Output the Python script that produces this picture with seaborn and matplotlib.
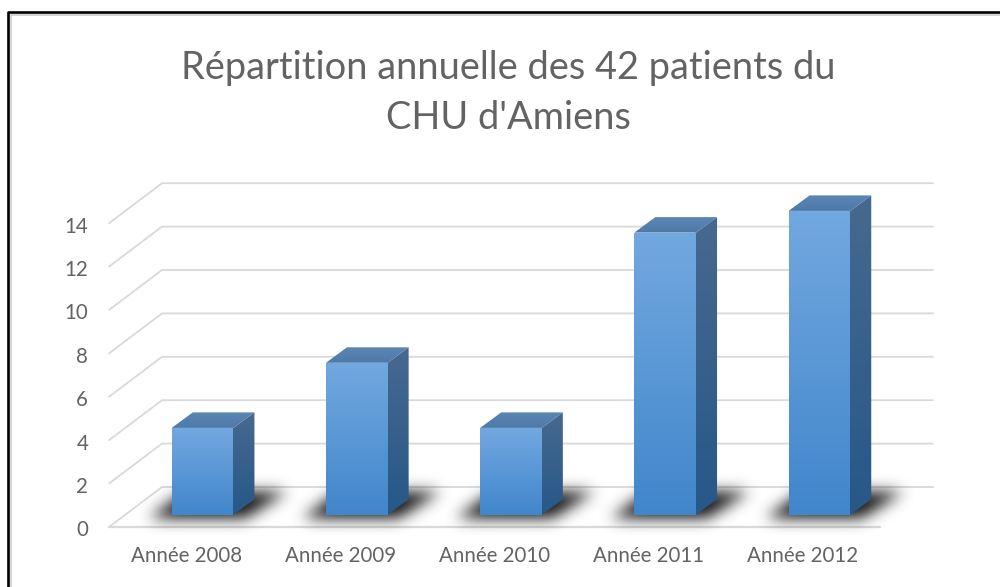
import numpy as np
import seaborn as sns
import matplotlib.pyplot as plt
from matplotlib.patches import Polygon
from matplotlib.path import Path
from matplotlib.transforms import ScaledTranslation

years = ['Année 2008', 'Année 2009', 'Année 2010', 'Année 2011', 'Année 2012']
patients = [4, 7, 4, 13, 14]
y_ticks = [0, 2, 4, 6, 8, 10, 12, 14]
title = "Répartition annuelle des 42 patients du\nCHU d'Amiens"

W, H = 1000, 587
X_LEFT, X_RIGHT = 109, 880   # floor front edge, pixels
Y_ZERO = 527                 # value 0 on the front plane, pixels
PX_CAT = (X_RIGHT - X_LEFT) / 5
PX_UNIT = 21.7
YMAX = 16

sns.set_theme(style='white')
plt.rcParams['font.family'] = ['Lato', 'DejaVu Sans']
grey = '#636363'
line = '#d9d9d9'

fig = plt.figure(figsize=(10, 5.87), dpi=100)
ax = fig.add_axes([X_LEFT / W, 1 - Y_ZERO / H, (X_RIGHT - X_LEFT) / W, PX_UNIT * YMAX / H])
sns.barplot(x=years, y=patients, width=0.4, color='#4a90d6', saturation=1, ax=ax, zorder=3, linewidth=0)
sns.despine(ax=ax, left=True, bottom=True, top=True, right=True)
ax.set_xlim(-0.5, 4.5)
ax.set_ylim(0, YMAX)
ax.set_autoscale_on(False)
ax.patch.set_alpha(0)


def dx(px):
    return px / PX_CAT


def dy(px):
    return px / PX_UNIT


# back wall and side wall lines
for t in y_ticks:
    ax.plot([-0.5, -0.5 + dx(53), 4.5 + dx(53)], [t, t + dy(40), t + dy(40)],
            color=line, lw=1.3, clip_on=False, zorder=1, solid_joinstyle='miter')
ax.plot([-0.5, 4.5], [0, 0], color=line, lw=1.6, clip_on=False, zorder=1)


def gradient_face(pts, c_top, c_bottom, z):
    pts = np.array(pts)
    top = np.array(plt.matplotlib.colors.to_rgb(c_top))
    bottom = np.array(plt.matplotlib.colors.to_rgb(c_bottom))
    t = np.linspace(0, 1, 256)[:, None, None]
    img = top[None, None, :] * (1 - t) + bottom[None, None, :] * t
    im = ax.imshow(img, extent=[pts[:, 0].min(), pts[:, 0].max(), pts[:, 1].min(), pts[:, 1].max()],
                   aspect='auto', origin='upper', zorder=z, interpolation='bilinear')
    clip = Polygon(pts, transform=ax.transData, fc='none', ec='none')
    ax.add_patch(clip)
    im.set_clip_path(clip)


def blur(a, sigma):
    r = int(sigma * 3)
    k = np.exp(-0.5 * (np.arange(-r, r + 1) / sigma) ** 2)
    k /= k.sum()
    a = np.apply_along_axis(lambda v: np.convolve(v, k, mode='same'), 0, a)
    return np.apply_along_axis(lambda v: np.convolve(v, k, mode='same'), 1, a)


BAR_DX, BAR_DY = 16.5, 12.3   # bar offset from the front plane, pixels
DEPTH_X, DEPTH_Y = 21, 15.5

for p in ax.patches[:len(patients)]:
    p.set_x(p.get_x() + dx(BAR_DX))
    p.set_y(dy(BAR_DY))
    x0, x1 = p.get_x(), p.get_x() + p.get_width()
    y0, y1 = p.get_y(), p.get_y() + p.get_height()
    ddx, ddy = dx(DEPTH_X), dy(DEPTH_Y)

    gradient_face([(x0, y0), (x1, y0), (x1, y1), (x0, y1)], '#72a8e0', '#4186cb', 5)
    gradient_face([(x1 - dx(1.5), y0), (x1, y0), (x1 + ddx, y0 + ddy), (x1 + ddx, y1 + ddy), (x1, y1), (x1 - dx(1.5), y1)],
                  '#47698f', '#265888', 4)
    gradient_face([(x0, y1), (x1, y1), (x1 + ddx, y1 + ddy), (x0 + ddx, y1 + ddy)], '#5a86b6', '#4e79a7', 4)

    # blurred floor shadow, grid of one cell per pixel
    gx = x0 + dx(np.arange(-70, 170))
    gy = dy(np.arange(-8, 60))
    xx, yy = np.meshgrid(gx, gy)
    shadow = Path([(x0 - dx(24), dy(8)), (x1 + dx(10), dy(8)), (x1 + dx(52), dy(35)), (x0 + dx(12), dy(35))])
    mask = shadow.contains_points(np.c_[xx.ravel(), yy.ravel()]).reshape(xx.shape).astype(float)
    mask = np.clip(blur(mask, 7.5) * 1.1, 0, 1)
    rgba = np.zeros(mask.shape + (4,))
    rgba[..., :3] = 0.15
    rgba[..., 3] = mask
    ax.imshow(rgba, extent=[gx[0], gx[-1], gy[0], gy[-1]], origin='lower', aspect='auto',
              zorder=2, interpolation='bilinear', clip_on=False)

ax.set_xlim(-0.5, 4.5)
ax.set_ylim(0, YMAX)

ax.set_yticks(y_ticks)
ax.set_ylabel('')
ax.set_xlabel('')
ax.tick_params(axis='y', length=0, pad=15, labelsize=14.8, labelcolor=grey)
ax.tick_params(axis='x', length=0, pad=14, labelsize=14.8, labelcolor=grey)
for lab in ax.get_yticklabels():
    lab.set_transform(lab.get_transform() + ScaledTranslation(0, -1 / 72, fig.dpi_scale_trans))

fig.text(0.508, 1 - 93 / H, title, ha='center', va='center', fontsize=27.4, color=grey, linespacing=1.5)

# picture frame
fig.add_artist(plt.Line2D([8 / W, 8 / W, 1], [0, 1 - 12.2 / H, 1 - 12.2 / H],
                          transform=fig.transFigure, color='black', lw=1.9))
fig.add_artist(plt.Line2D([10.5 / W, 10.5 / W, 1], [0, 1 - 14.5 / H, 1 - 14.5 / H],
                          transform=fig.transFigure, color='#d0d0d0', lw=1.3))

fig.savefig('out.png', dpi=100)
